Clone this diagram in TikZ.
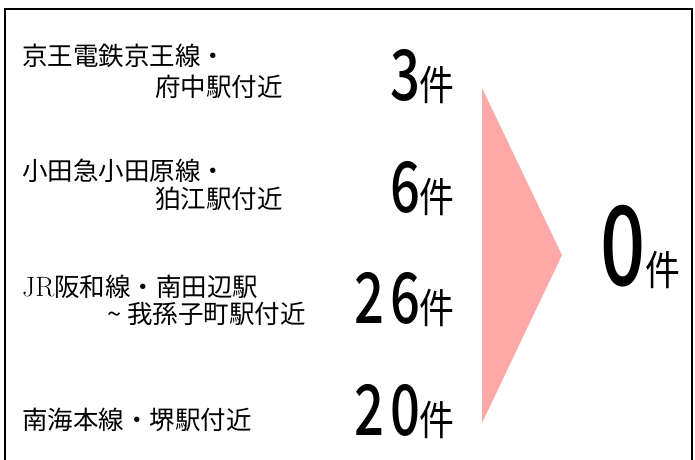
\documentclass[tikz,border=0pt]{standalone}
\usepackage{fontspec}
\usepackage{graphicx}
\newfontfamily\jpfont{Noto Sans CJK JP}
\newfontfamily\jpmedium{Noto Sans CJK JP Medium}
\definecolor{arrowpink}{RGB}{255,168,168}
% big narrowed digits, then a smaller narrowed 件
\newcommand{\kensu}[3]{\scalebox{#2}[1]{\jpmedium\fontsize{#1}{#1}\selectfont #3}\scalebox{0.85}[1]{\fontsize{41pt}{41pt}\selectfont 件}}

\begin{document}
\begin{tikzpicture}[x=1pt,y=-1pt,
	lbl/.style={anchor=west,inner sep=0pt,font=\jpfont\fontsize{25.5pt}{28pt}\selectfont},
	num/.style={anchor=base east,inner sep=0pt,font=\jpfont}]
	\useasboundingbox (0,0) rectangle (695,459);
	\draw[line width=2pt] (5,470) -- (5,9) -- (691.5,9) -- (691.5,470);

	\node[lbl] (keio1) at (22,56) {京王電鉄京王線・};
	\node[lbl] (keio2) at (155,87) {府中駅付近};
	\node[num] (keiocnt) at (455,100) {\kensu{70pt}{0.75}{3}};

	\node[lbl] (oda1) at (22,171) {小田急小田原線・};
	\node[lbl] (oda2) at (155,199) {狛江駅付近};
	\node[num] (odacnt) at (455,212) {\kensu{70pt}{0.75}{6}};

	\node[lbl] (jr1) at (22,287) {{\rmfamily\fontsize{28pt}{28pt}\selectfont JR}阪和線・南田辺駅};
	\node[lbl] (jr2) at (107,314) {\textasciitilde\ 我孫子町駅付近};
	\node[num] (jrcnt) at (455,323) {\kensu{70pt}{0.75}{2\kern7pt 6}};

	\node[lbl] (nankai) at (22,420) {南海本線・堺駅付近};
	\node[num] (nankaicnt) at (455,435) {\kensu{70pt}{0.75}{2\kern7pt 0}};

	\fill[arrowpink] (482,88) -- (562,255) -- (482,423) -- cycle;
	\node[num] (total) at (681,285) {\kensu{110pt}{0.72}{0}};
\end{tikzpicture}
\end{document}
